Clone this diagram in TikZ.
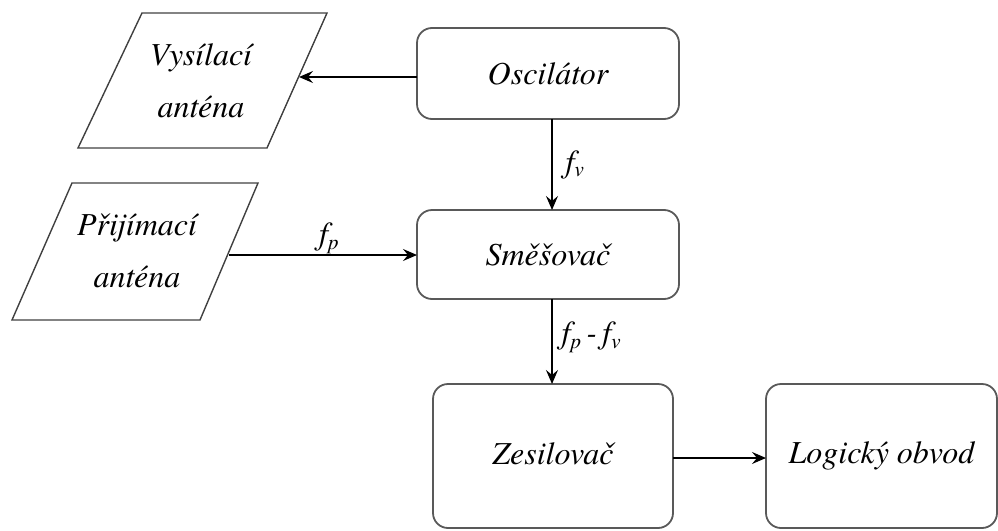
\documentclass[tikz,border=0pt]{standalone}
\usepackage{fontspec}
\setmainfont{texgyretermes}[Extension=.otf, UprightFont=*-regular, ItalicFont=*-italic, BoldFont=*-bold, BoldItalicFont=*-bolditalic]
\usetikzlibrary{arrows.meta}
\newcommand{\sublow}[1]{\raisebox{-0.35ex}{\fontsize{21}{23}\selectfont #1}}
\begin{document}
\begin{tikzpicture}[x=1pt,y=-1pt,
  box/.style={draw=black!65, line width=1.8pt, rounded corners=15pt, fill=white,
    outer sep=0pt, inner sep=0pt, font=\itshape\fontsize{32}{38}\selectfont},
  para/.style={draw=black!75, line width=1.4pt},
  ptext/.style={font=\itshape\fontsize{32}{38}\selectfont, align=center, inner sep=0pt},
  arr/.style={draw=black, line width=1.4pt, -{Stealth[length=14pt,width=12pt,inset=5pt]}},
  lbl/.style={font=\itshape\fontsize{32}{36}\selectfont, inner sep=0pt, anchor=west}]
\useasboundingbox (0,0) rectangle (998,530);
% parallelograms
\draw[para] (142,13) -- (327,13) -- (267,148) -- (78,148) -- cycle;
\node[ptext] (vys) at (201,81) {Vys\'ilac\'i\\[14pt]ant\'ena};
\draw[para] (72,183) -- (258,183) -- (200,320) -- (12,320) -- cycle;
\node[ptext] (pri) at (137,251) {P\v{r}ij\'imac\'i\\[14pt]ant\'ena};
\coordinate (vysR) at (299,77);
\coordinate (priR) at (229,255);
% boxes
\node[box, minimum width=262pt, minimum height=91pt] (osc) at (548,73.5) {Oscil\'ator};
\node[box, minimum width=262pt, minimum height=89pt] (smes) at (548,254.5) {Sm\v{e}\v{s}ova\v{c}};
\node[box, minimum width=240pt, minimum height=144pt] (zes) at (553,456) {\raisebox{4pt}{Zesilova\v{c}}};
\node[box, minimum width=231pt, minimum height=144pt] (log) at (881.5,456) {Logick\'y obvod};
\coordinate (xa) at (552,0);
\coordinate (ya) at (0,77);
\coordinate (yb) at (0,458);
% connectors
\draw[arr] (osc.west |- ya) -- (vysR);
\draw[arr] (osc.south -| xa) -- node[lbl, pos=0.5, xshift=13pt] {f\sublow{v}} (smes.north -| xa);
\draw[arr] (priR) -- (smes.west |- priR);
\node[lbl] (fp) at (319,238) {f\sublow{p}};
\draw[arr] (smes.south -| xa) -- node[lbl, pos=0.45, xshift=9pt] {f\sublow{p}\,-\,f\sublow{v}} (zes.north -| xa);
\draw[arr] (zes.east |- yb) -- (log.west |- yb);
\end{tikzpicture}
\end{document}
